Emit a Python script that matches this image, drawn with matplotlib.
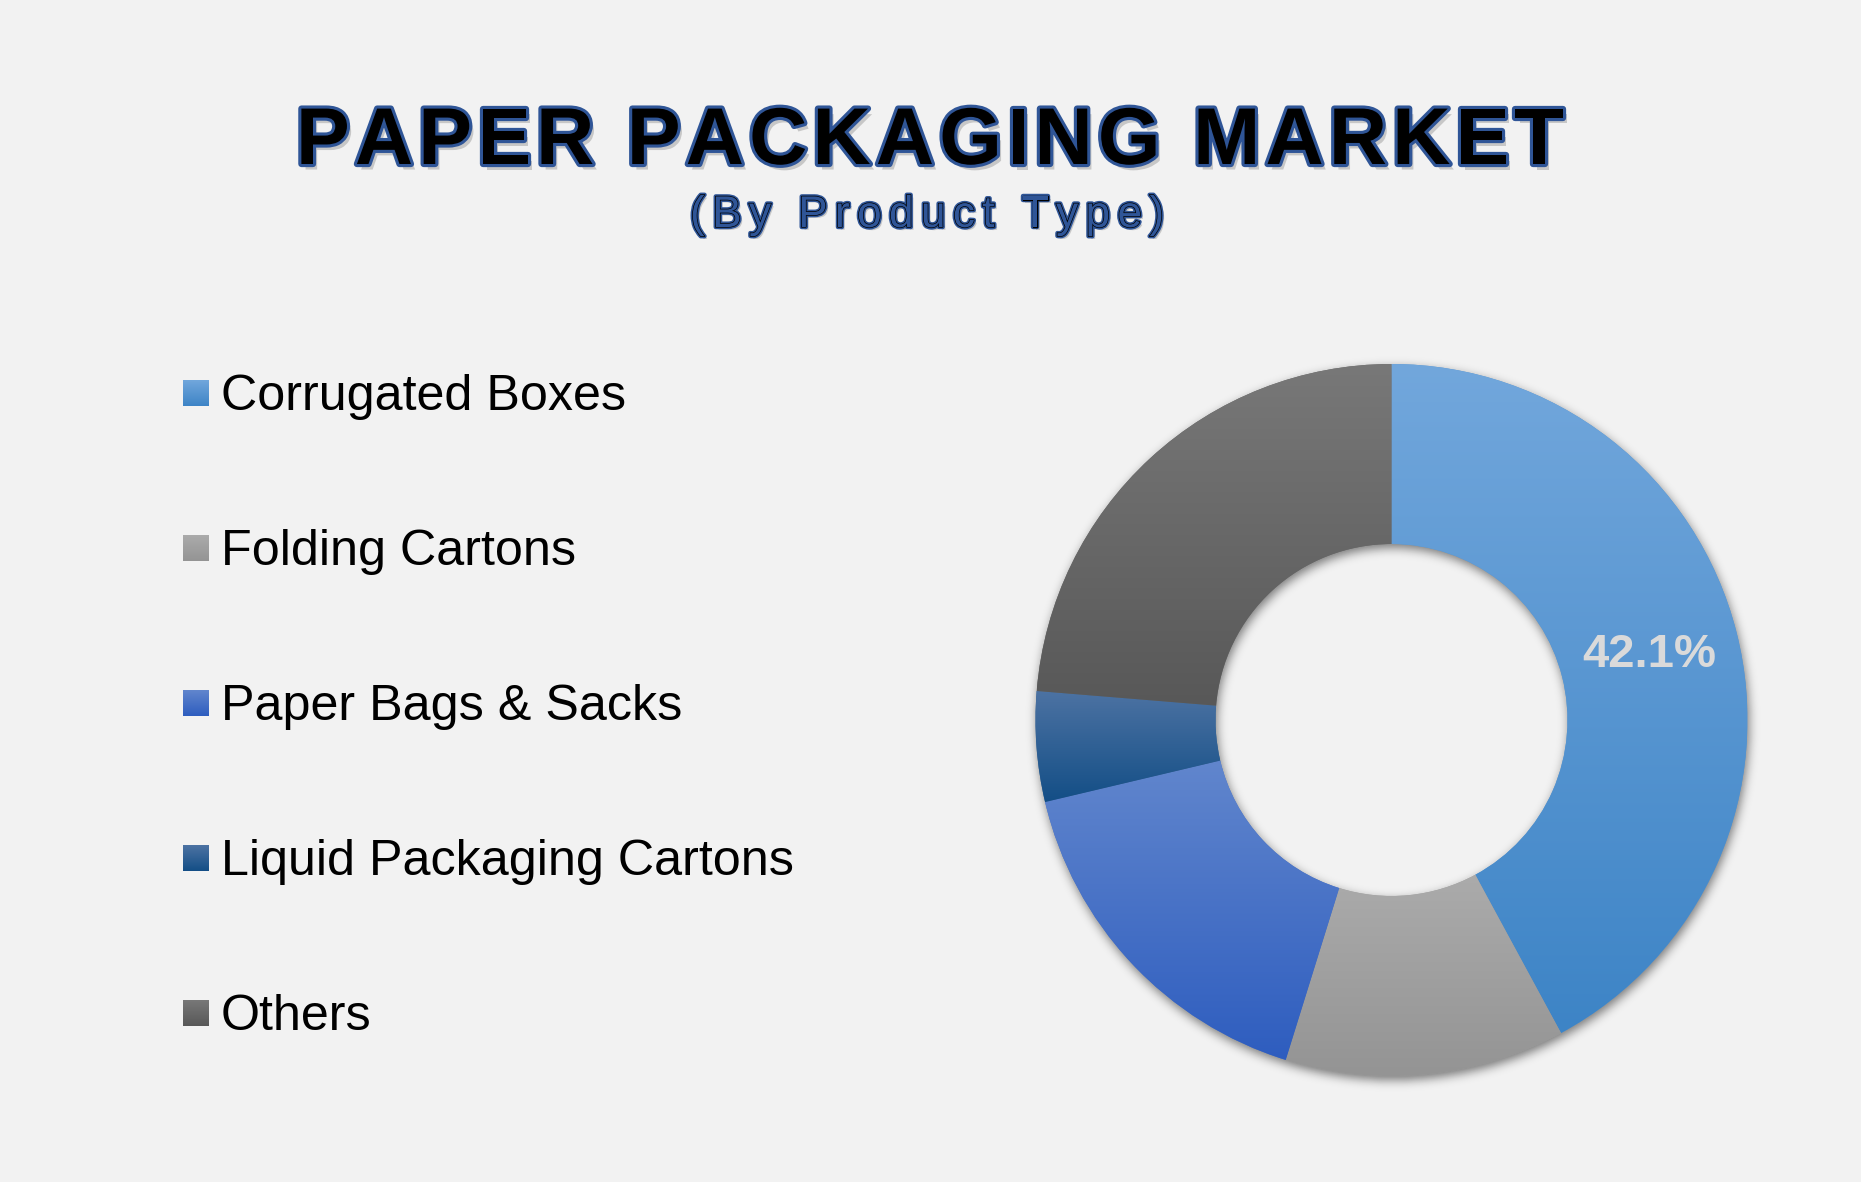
import numpy as np
import matplotlib
matplotlib.use("Agg")
import matplotlib.pyplot as plt
import matplotlib.patheffects as pe
from matplotlib import font_manager, ft2font
from matplotlib.font_manager import FontProperties
from matplotlib.colors import to_rgb

# Market share by product type (%)
categories = ["Corrugated Boxes", "Folding Cartons", "Paper Bags & Sacks",
              "Liquid Packaging Cartons", "Others"]
shares = [42.1, 12.7, 16.5, 5.0, 23.7]

# gradient colours per slice (top -> bottom)
top_colors = ["#72A7DC", "#ABABAB", "#6186CD", "#4D73A3", "#787878"]
bottom_colors = ["#3D84C6", "#949494", "#2E5DBF", "#134E86", "#585858"]

W, H = 1861, 1182
BG = "#F2F2F2"
BLUE = "#2F5597"

fig = plt.figure(figsize=(W / 100, H / 100), dpi=100, facecolor=BG)
ax = fig.add_axes([0, 0, 1, 1])
ax.set_facecolor(BG)


def grad(c_top, c_bot, n=256):
    t = np.linspace(0, 1, n)[:, None]
    a = np.array(to_rgb(c_top))
    b = np.array(to_rgb(c_bot))
    return (a * (1 - t) + b * t)[:, None, :]


def mix(c1, c2):
    return tuple((np.array(to_rgb(c1)) + np.array(to_rgb(c2))) / 2)


# donut geometry (pixel coords, y up)
cx, cy = 1391.5, H - 720
r_out, r_in = 356, 176

wedges, _, autotexts = ax.pie(
    shares, startangle=90, counterclock=False, radius=r_out, center=(cx, cy),
    colors=[mix(a, b) for a, b in zip(top_colors, bottom_colors)],
    wedgeprops=dict(width=r_out - r_in, edgecolor="none", linewidth=0),
    autopct=lambda p: f"{p:.1f}%" if p > 40 else "",
    pctdistance=(r_out + r_in) / 2 / r_out,
    textprops=dict(fontsize=34, fontweight="bold", color="#DADADA",
                   family="Liberation Sans"))
for t in autotexts:
    t.set_zorder(6)

for w, ct, cb in zip(wedges, top_colors, bottom_colors):
    w.set_zorder(2)
    ext = w.get_path().get_extents()
    im = ax.imshow(grad(ct, cb), extent=(ext.x0, ext.x1, ext.y0, ext.y1),
                   origin="upper", aspect="auto", interpolation="bilinear", zorder=3)
    im.set_clip_path(w)

# soft drop shadow of the ring
yy, xx = np.mgrid[0:H, 0:W].astype(np.float32)
d = np.hypot(xx + 0.5 - cx - 1.5, yy + 0.5 - (H - cy) - 4)
mask = ((d <= r_out) & (d >= r_in)).astype(np.float32)
sig, R = 5.0, 15
k = np.exp(-np.arange(-R, R + 1) ** 2 / (2 * sig ** 2))
k /= k.sum()
for axis in (0, 1):
    out = np.zeros_like(mask)
    for i, kv in enumerate(k):
        out += kv * np.roll(mask, i - R, axis=axis)
    mask = out
shadow = np.zeros((H, W, 4), dtype=np.float32)
shadow[..., 3] = mask * 0.5
ax.imshow(shadow, extent=(0, W, 0, H), origin="upper", aspect="auto",
          interpolation="nearest", zorder=1)

# legend
for i, (lab, ct, cb) in enumerate(zip(categories, top_colors, bottom_colors)):
    yc = H - (393.5 + 155 * i)
    ax.imshow(grad(ct, cb), extent=(183, 209, yc - 13, yc + 13), origin="upper",
              aspect="auto", interpolation="bilinear", zorder=3)
    ax.text(221, H - (410 + 155 * i), lab, fontsize=36.2, family="Liberation Sans",
            ha="left", va="baseline", color="black", zorder=5)


def tracked(s, xc, base_y, fp, target_w, color, effects):
    font = ft2font.FT2Font(font_manager.findfont(fp), hinting_factor=1)
    font.set_size(fp.get_size_in_points(), 100)
    adv = [font.load_char(ord(c)).linearHoriAdvance / 65536 for c in s]
    track = (target_w - sum(adv)) / (len(s) - 1)
    x = xc - target_w / 2
    for c, a in zip(s, adv):
        if c != " ":
            ax.text(x, base_y, c, fontproperties=fp, color=color, ha="left",
                    va="baseline", path_effects=effects, zorder=7)
        x += a + track


title_fp = FontProperties(family="Liberation Sans", weight="bold", size=58)
tracked("PAPER PACKAGING MARKET", 930, H - 164, title_fp, 1268, "black",
        [pe.SimplePatchShadow(offset=(3, -4), shadow_rgbFace="#666666", alpha=0.3),
         pe.Stroke(linewidth=4.5, foreground=BLUE), pe.Normal()])

sub_fp = FontProperties(family="Liberation Sans", size=32)
tracked("(By Product Type)", 927, H - 227, sub_fp, 474, BLUE,
        [pe.SimplePatchShadow(offset=(2, -2), shadow_rgbFace="#666666", alpha=0.3),
         pe.Stroke(linewidth=3.2, foreground=BLUE),
         pe.Stroke(linewidth=1.0, foreground="black"), pe.Normal()])

ax.set_xlim(0, W)
ax.set_ylim(0, H)
ax.axis("off")
fig.savefig("out.png", dpi=100, facecolor=BG)
